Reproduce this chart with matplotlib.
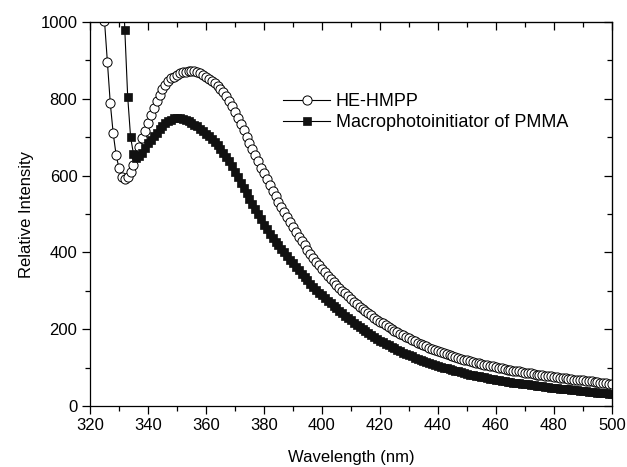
import numpy as np
import matplotlib
matplotlib.use('Agg')
import matplotlib.pyplot as plt
from matplotlib.ticker import MultipleLocator

plt.rcParams['font.family'] = ['Liberation Sans', 'DejaVu Sans']

# HE-HMPP, 1 nm steps starting at 324 nm
hehmpp_start = 324
hehmpp = [
    1150, 1003, 897, 788, 710, 654, 619, 597, 590, 597,            # 324-333
    610, 628, 652, 675, 697, 716, 738, 758, 777, 795,              # 334-343
    811, 825, 837, 846, 853, 858, 862, 866, 869, 871,              # 344-353
    873, 873, 872, 870, 867, 863, 858, 852, 846, 840,              # 354-363
    833, 826, 817, 806, 794, 780, 766, 750, 734, 718,              # 364-373
    701, 685, 669, 653, 637, 621, 606, 591, 576, 561,              # 374-383
    546, 532, 518, 504, 491, 478, 465, 453, 441, 429,              # 384-393
    418, 407, 396, 386, 376, 366, 357, 348, 339, 331,              # 394-403
    323, 315, 307, 300, 293, 286, 279, 272, 265, 259,              # 404-413
    253, 247, 241, 236, 230, 225, 220, 215, 210, 205,              # 414-423
    201, 196, 192, 188, 184, 180, 176, 172, 169, 165,              # 424-433
    162, 158, 155, 152, 149, 146, 143, 140, 138, 135,              # 434-443
    133, 130, 128, 126, 123, 121, 119, 117, 115, 113,              # 444-453
    111, 110, 108, 106, 104, 103, 101, 100, 98, 97,                # 454-463
    95, 94, 92, 91, 90, 88, 87, 86, 85, 84,                        # 464-473
    82, 81, 80, 79, 78, 77, 76, 75, 74, 73,                        # 474-483
    72, 71, 70, 69, 68, 67.5, 67, 66, 65, 64,                      # 484-493
    63, 62, 61, 60, 59, 58, 57,                                    # 494-500
]

# Macrophotoinitiator of PMMA, 1 nm steps starting at 331 nm
pmma_start = 331
pmma = [
    1200, 980, 805, 700, 656, 646, 650, 660, 672, 684,             # 331-340
    694, 703, 712, 721, 730, 737, 742, 746, 749, 750,              # 341-350
    750, 748, 746, 742, 738, 733, 728, 722, 716, 709,              # 351-360
    702, 695, 687, 679, 670, 660, 649, 637, 624, 610,              # 361-370
    596, 582, 568, 554, 540, 527, 514, 501, 488, 472,              # 371-380
    461, 449, 438, 428, 418, 409, 400, 390, 381, 372,              # 381-390
    363, 354, 345, 336, 327, 318, 310, 302, 295, 288,              # 391-400
    281, 274, 267, 260, 254, 247, 241, 235, 229, 223,              # 401-410
    217, 211, 206, 200, 195, 190, 185, 180, 175, 170,              # 411-420
    166, 162, 158, 154, 150, 146, 142, 139, 135, 132,              # 421-430
    129, 126, 123, 120, 117, 114, 112, 109, 107, 104,              # 431-440
    102, 100, 98, 96, 94, 92, 90, 88, 86, 84,                      # 441-450
    82, 80.5, 79, 77.5, 76, 74.5, 73, 71.5, 70, 68.5,              # 451-460
    67, 66, 65, 63.5, 62, 61, 60, 59, 58, 57,                      # 461-470
    56, 55, 54, 53, 52, 51, 50, 49, 48, 47,                        # 471-480
    46, 45, 44.5, 44, 43, 42, 41, 40.5, 40, 39,                    # 481-490
    38, 37.5, 37, 36, 35, 34.5, 34, 33, 32, 31,                    # 491-500
]

wl_hehmpp = hehmpp_start + np.arange(len(hehmpp))
wl_pmma = pmma_start + np.arange(len(pmma))

fig = plt.figure(figsize=(6.27, 4.67), dpi=100)
ax = fig.add_axes([90/627, 1-406/467, 522/627, 384/467])

ax.plot(wl_hehmpp, hehmpp, '-o', color='k', lw=0.8, markersize=6.6,
        markerfacecolor='white', markeredgecolor='k', markeredgewidth=0.7,
        label='HE-HMPP')
ax.plot(wl_pmma, pmma, '-s', color='k', lw=0.8, markersize=5.8,
        markerfacecolor='#111111', markeredgecolor='#111111', markeredgewidth=0.5,
        label='Macrophotoinitiator of PMMA')

ax.set_xlim(320, 500)
ax.set_ylim(0, 1000)
ax.xaxis.set_major_locator(MultipleLocator(20))
ax.xaxis.set_minor_locator(MultipleLocator(10))
ax.yaxis.set_major_locator(MultipleLocator(200))
ax.yaxis.set_minor_locator(MultipleLocator(100))

for s in ax.spines.values():
    s.set_linewidth(0.9)
ax.tick_params(which='both', direction='out', width=0.9, labelsize=12, pad=3)
ax.tick_params(which='major', length=6)
ax.tick_params(which='minor', length=3.5)

# inward ticks on top and right
top = ax.secondary_xaxis('top')
top.xaxis.set_major_locator(MultipleLocator(20))
top.xaxis.set_minor_locator(MultipleLocator(10))
top.tick_params(which='both', direction='in', width=0.9, labeltop=False)
top.tick_params(which='major', length=6)
top.tick_params(which='minor', length=3.5)
right = ax.secondary_yaxis('right')
right.yaxis.set_major_locator(MultipleLocator(200))
right.yaxis.set_minor_locator(MultipleLocator(100))
right.tick_params(which='both', direction='in', width=0.9, labelright=False)
right.tick_params(which='major', length=6)
right.tick_params(which='minor', length=3.5)

ax.set_xlabel('Wavelength (nm)', fontsize=12, labelpad=12)
ax.set_ylabel('Relative Intensity', fontsize=12, labelpad=5)

ax.legend(loc='center left', bbox_to_anchor=(0.37, 0.765), frameon=False,
          fontsize=13, handlelength=2.6, handletextpad=0.3, labelspacing=0.2,
          borderpad=0, borderaxespad=0)

fig.savefig('out.png', dpi=100)
